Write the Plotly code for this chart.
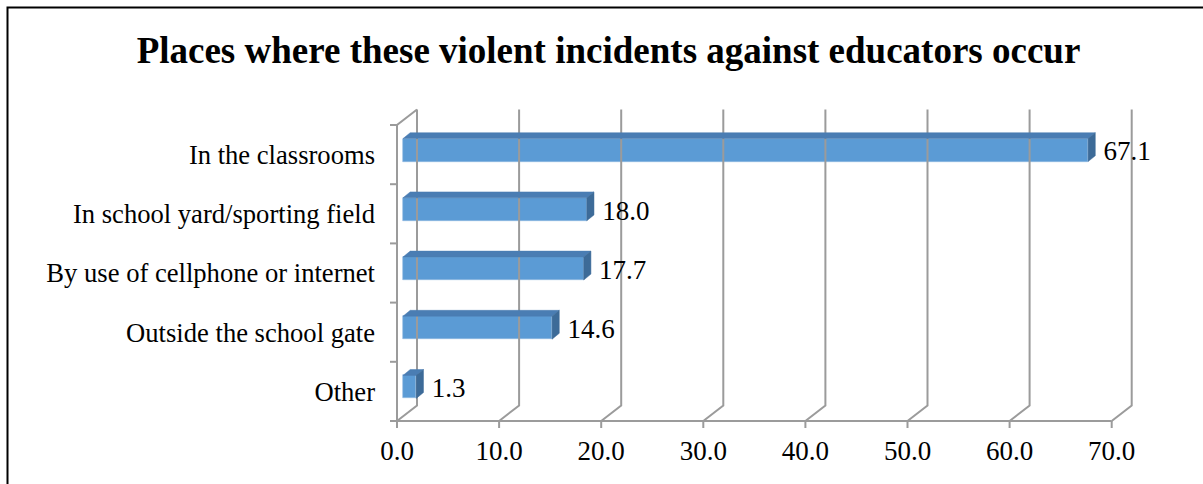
import plotly.graph_objects as go

# ---- data ----
categories = [
    "Other",
    "Outside the school gate",
    "By use of cellphone or internet",
    "In school yard/sporting field",
    "In the classrooms",
]
values = [1.3, 14.6, 17.7, 18.0, 67.1]
x_ticks = [0, 10, 20, 30, 40, 50, 60, 70]

title_text = "Places where these violent incidents against educators occur"

# ---- figure geometry ----
W, H = 1203, 484
ML, MR, MT, MB = 387, 66, 107, 56
PX_X = 10.21          # pixels per value unit
PX_Y = 59.2           # pixels per category slot
ZERO_PX = 397.0       # pixel column of value 0 on the front plane
FLOOR_PX = 421.0      # pixel row of the front floor edge

plot_w = W - ML - MR
plot_h = H - MT - MB
x_lo = (ML - ZERO_PX) / PX_X
x_hi = x_lo + plot_w / PX_X
floor_y = -0.5
y_lo = floor_y - (H - MB - FLOOR_PX) / PX_Y
y_hi = y_lo + plot_h / PX_Y
top_y = floor_y + len(categories)

# 3-D depth of the walls (value units / category units)
DX = 20.0 / PX_X
DY = 15.5 / PX_Y
# bar placement inside the depth
FX, FY = 0.30 * DX, 0.29 * DY
BDX, BDY = 0.36 * DX, 0.38 * DY
BAR_H = 23.0 / PX_Y

GRID = "#9b9b9b"
FRONT = "#5b9bd5"
TOP = "#4a7db3"
SIDE = "#3d6b98"
FONT = "Liberation Serif"
FS = 27
FS_CAT = 26.6

fig = go.Figure()

# ---- walls, grid and tick marks ----
gx, gy = [], []
for t in x_ticks:
    gx += [t, t + DX, t + DX, None]
    gy += [floor_y, floor_y + DY, top_y + DY, None]
    gx += [t, t, None]
    gy += [floor_y, floor_y - 7.0 / PX_Y, None]
gx += [0, 0, DX, None]
gy += [floor_y, top_y, top_y + DY, None]
gx += [x_ticks[0], x_ticks[-1], None]
gy += [floor_y, floor_y, None]
for k in range(len(categories) + 1):
    gx += [-7.0 / PX_X, 0, None]
    gy += [floor_y + k, floor_y + k, None]
fig.add_trace(go.Scatter(x=gx, y=gy, mode="lines",
                         line=dict(color=GRID, width=2),
                         hoverinfo="skip", showlegend=False))

pos = list(range(len(categories)))

# ---- bars: front faces ----
fig.add_trace(go.Bar(
    orientation="h",
    y=[p + FY for p in pos],
    x=values,
    base=FX,
    width=BAR_H,
    marker=dict(color=FRONT, line=dict(color="#8fb9e3", width=0.6)),
    hoverinfo="skip", showlegend=False,
))

# ---- bars: top and side faces ----
tx, ty, sx, sy = [], [], [], []
for p, v in zip(pos, values):
    yb = p + FY - BAR_H / 2
    yt = p + FY + BAR_H / 2
    x1 = FX + v
    tx += [FX, x1, x1 + BDX, FX + BDX, FX, None]
    ty += [yt, yt, yt + BDY, yt + BDY, yt, None]
    sx += [x1, x1 + BDX, x1 + BDX, x1, x1, None]
    sy += [yb, yb + BDY, yt + BDY, yt, yb, None]
fig.add_trace(go.Scatter(x=tx, y=ty, mode="lines", fill="toself",
                         fillcolor=TOP, line=dict(color=TOP, width=0.5),
                         hoverinfo="skip", showlegend=False))
fig.add_trace(go.Scatter(x=sx, y=sy, mode="lines", fill="toself",
                         fillcolor=SIDE, line=dict(color=SIDE, width=0.5),
                         hoverinfo="skip", showlegend=False))

# ---- value labels ----
fig.add_trace(go.Scatter(
    x=[FX + v + BDX + 0.8 for v in values],
    y=[p + FY - 0.06 for p in pos],
    mode="text",
    text=[f"{v:.1f}" for v in values],
    textposition="middle right",
    textfont=dict(family=FONT, size=FS, color="#000000"),
    cliponaxis=False,
    hoverinfo="skip", showlegend=False,
))

# ---- outer frame ----
fx0 = (7.5 - ML) / plot_w
fy1 = 1 + (MT - 7.5) / plot_h
fig.add_shape(type="rect", xref="paper", yref="paper",
              x0=fx0, x1=1 + (MR + 40) / plot_w,
              y0=-(MB + 40) / plot_h, y1=fy1,
              line=dict(color="#000000", width=2), fillcolor="rgba(0,0,0,0)")

fig.update_layout(
    width=W, height=H,
    margin=dict(l=ML, r=MR, t=MT, b=MB),
    paper_bgcolor="white", plot_bgcolor="white",
    title=dict(text=f"<b>{title_text}</b>", xref="paper", x=(608.5 - ML) / plot_w,
               xanchor="center", y=1 - 50 / H, yanchor="middle",
               font=dict(family=FONT, size=37, color="#000000")),
    xaxis=dict(range=[x_lo, x_hi], tickvals=x_ticks,
               ticktext=[f"{t:.1f}" for t in x_ticks],
               showgrid=False, zeroline=False, showline=False, ticks="",
               ticklabelstandoff=4,
               tickfont=dict(family=FONT, size=FS, color="#000000")),
    yaxis=dict(range=[y_lo, y_hi], tickvals=pos, ticktext=categories,
               showgrid=False, zeroline=False, showline=False, ticks="",
               ticklabelstandoff=11,
               tickfont=dict(family=FONT, size=FS_CAT, color="#000000")),
    bargap=0,
)

fig.write_html("out.html")
